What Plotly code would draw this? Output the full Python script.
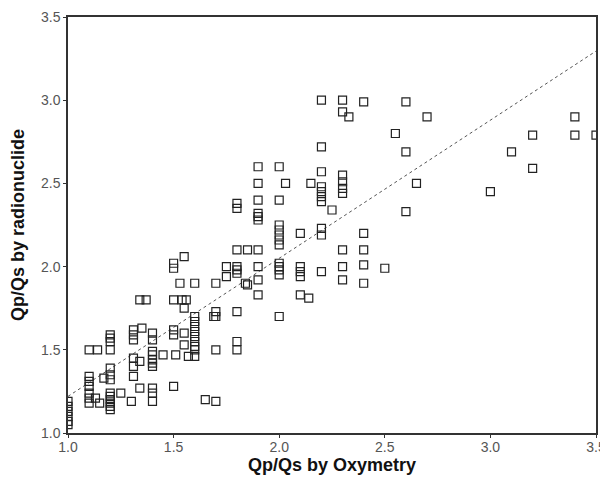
import plotly.graph_objects as go

# Qp/Qs by oxymetry (x) and by radionuclide (y)
ox = [
    1.0, 1.0, 1.0, 1.0, 1.0, 1.0,
    1.1, 1.1, 1.1, 1.1, 1.1, 1.1, 1.1,
    1.13, 1.15, 1.14, 1.17,
    1.2, 1.2, 1.2, 1.2, 1.2, 1.2, 1.2, 1.2, 1.2, 1.2, 1.2, 1.2, 1.2,
    1.25, 1.3,
    1.31, 1.31, 1.31, 1.31, 1.31, 1.31,
    1.34, 1.34, 1.34, 1.35, 1.37,
    1.4, 1.4, 1.4, 1.4, 1.4, 1.4, 1.4, 1.4, 1.4, 1.4,
    1.45,
    1.5, 1.5, 1.5, 1.5, 1.5, 1.5,
    1.51, 1.53, 1.54,
    1.55, 1.55, 1.55, 1.55, 1.56, 1.57,
    1.6, 1.6, 1.6, 1.6, 1.6, 1.6, 1.6, 1.6, 1.6, 1.6,
    1.65, 1.69,
    1.7, 1.7, 1.7, 1.7, 1.7,
    1.75, 1.75,
    1.8, 1.8, 1.8, 1.8, 1.8, 1.8, 1.8, 1.8, 1.8,
    1.84, 1.85, 1.85,
    1.9, 1.9, 1.9, 1.9, 1.9, 1.9, 1.9, 1.9, 1.9, 1.9,
    2.0, 2.0, 2.0, 2.0, 2.0, 2.0, 2.0, 2.0, 2.0, 2.0, 2.0, 2.0,
    2.03,
    2.1, 2.1, 2.1, 2.1, 2.1,
    2.14, 2.15,
    2.2, 2.2, 2.2, 2.2, 2.2, 2.2, 2.2, 2.2, 2.2, 2.2,
    2.25,
    2.3, 2.3, 2.3, 2.3, 2.3, 2.3, 2.3, 2.3, 2.3,
    2.33,
    2.4, 2.4, 2.4, 2.4, 2.4,
    2.5, 2.55,
    2.6, 2.6, 2.6,
    2.65, 2.7,
    3.0, 3.1, 3.2, 3.2, 3.4, 3.4, 3.5,
]
radio = [
    1.19, 1.16, 1.13, 1.10, 1.07, 1.05,
    1.50, 1.34, 1.31, 1.28, 1.24, 1.21, 1.18,
    1.21, 1.18, 1.50, 1.33,
    1.59, 1.57, 1.55, 1.50, 1.39, 1.35, 1.32, 1.24, 1.22, 1.20, 1.18, 1.16, 1.14,
    1.24, 1.19,
    1.62, 1.59, 1.56, 1.45, 1.40, 1.34,
    1.43, 1.27, 1.80, 1.63, 1.80,
    1.60, 1.56, 1.49, 1.47, 1.44, 1.42, 1.40, 1.27, 1.24, 1.19,
    1.47,
    1.62, 1.59, 1.28, 2.02, 1.99, 1.80,
    1.47, 1.90, 1.80,
    1.75, 1.60, 1.53, 2.06, 1.80, 1.46,
    1.70, 1.67, 1.64, 1.61, 1.58, 1.55, 1.52, 1.50, 1.46, 1.90,
    1.20, 1.70,
    1.73, 1.70, 1.50, 1.19, 1.90,
    2.00, 1.94,
    1.73, 1.55, 1.50, 2.38, 2.35, 2.10, 2.00, 1.98, 1.96,
    1.90, 2.10, 1.89,
    2.60, 2.50, 2.40, 2.32, 2.30, 2.28, 2.10, 2.00, 1.92, 1.83,
    2.60, 2.40, 2.25, 2.22, 2.19, 2.16, 2.13, 2.02, 2.00, 1.98, 1.95, 1.70,
    2.50,
    2.20, 2.00, 1.97, 1.94, 1.83,
    1.81, 2.50,
    3.00, 2.72, 2.57, 2.48, 2.45, 2.42, 2.39, 2.23, 2.19, 1.97,
    2.34,
    3.00, 2.93, 2.55, 2.51, 2.47, 2.44, 2.10, 2.00, 1.92,
    2.90,
    2.99, 2.20, 2.10, 2.01, 1.90,
    1.99, 2.80,
    2.99, 2.69, 2.33,
    2.50, 2.90,
    2.45, 2.69, 2.79, 2.59, 2.90, 2.79, 2.79,
]

# regression line drawn in the reference
line_x = [1.0, 3.5]
line_slope = 0.83
line_intercept = 0.39
line_y = [line_intercept + line_slope * v for v in line_x]

tick_vals = [1.0, 1.5, 2.0, 2.5, 3.0, 3.5]
tick_text = ["1.0", "1.5", "2.0", "2.5", "3.0", "3.5"]

fig = go.Figure()
fig.add_trace(go.Scatter(
    x=line_x, y=line_y, mode="lines",
    line=dict(color="#555555", width=1, dash="dot"),
    showlegend=False, hoverinfo="skip",
))
fig.add_trace(go.Scatter(
    x=ox, y=radio, mode="markers",
    marker=dict(symbol="square-open", size=8, color="#222222",
                line=dict(width=1.2, color="#222222")),
    showlegend=False,
))

axis_common = dict(
    range=[1.0, 3.5],
    tickvals=tick_vals, ticktext=tick_text,
    showgrid=False, zeroline=False, automargin=False,
    showline=True, linecolor="#333333", linewidth=1.5, mirror=True,
    ticks="outside", ticklen=3, tickcolor="#333333", tickwidth=1,
    ticklabeloverflow="allow",
    tickfont=dict(family="Liberation Sans, Arial, sans-serif", size=14, color="#555555"),
)

fig.update_layout(
    width=600, height=473,
    margin=dict(l=60, r=12, t=9, b=48),
    paper_bgcolor="white", plot_bgcolor="white",
    xaxis=dict(**axis_common, ticklabelstandoff=-3,
               title=dict(text="<b>Qp/Qs by Oxymetry</b>", standoff=4,
                          font=dict(family="Liberation Sans, Arial, sans-serif", size=18, color="#111111"))),
    yaxis=dict(**axis_common,
               title=dict(text="<b>Qp/Qs by radionuclide</b>", standoff=19,
                          font=dict(family="Liberation Sans, Arial, sans-serif", size=18, color="#111111"))),
)

fig.write_html("out.html")
